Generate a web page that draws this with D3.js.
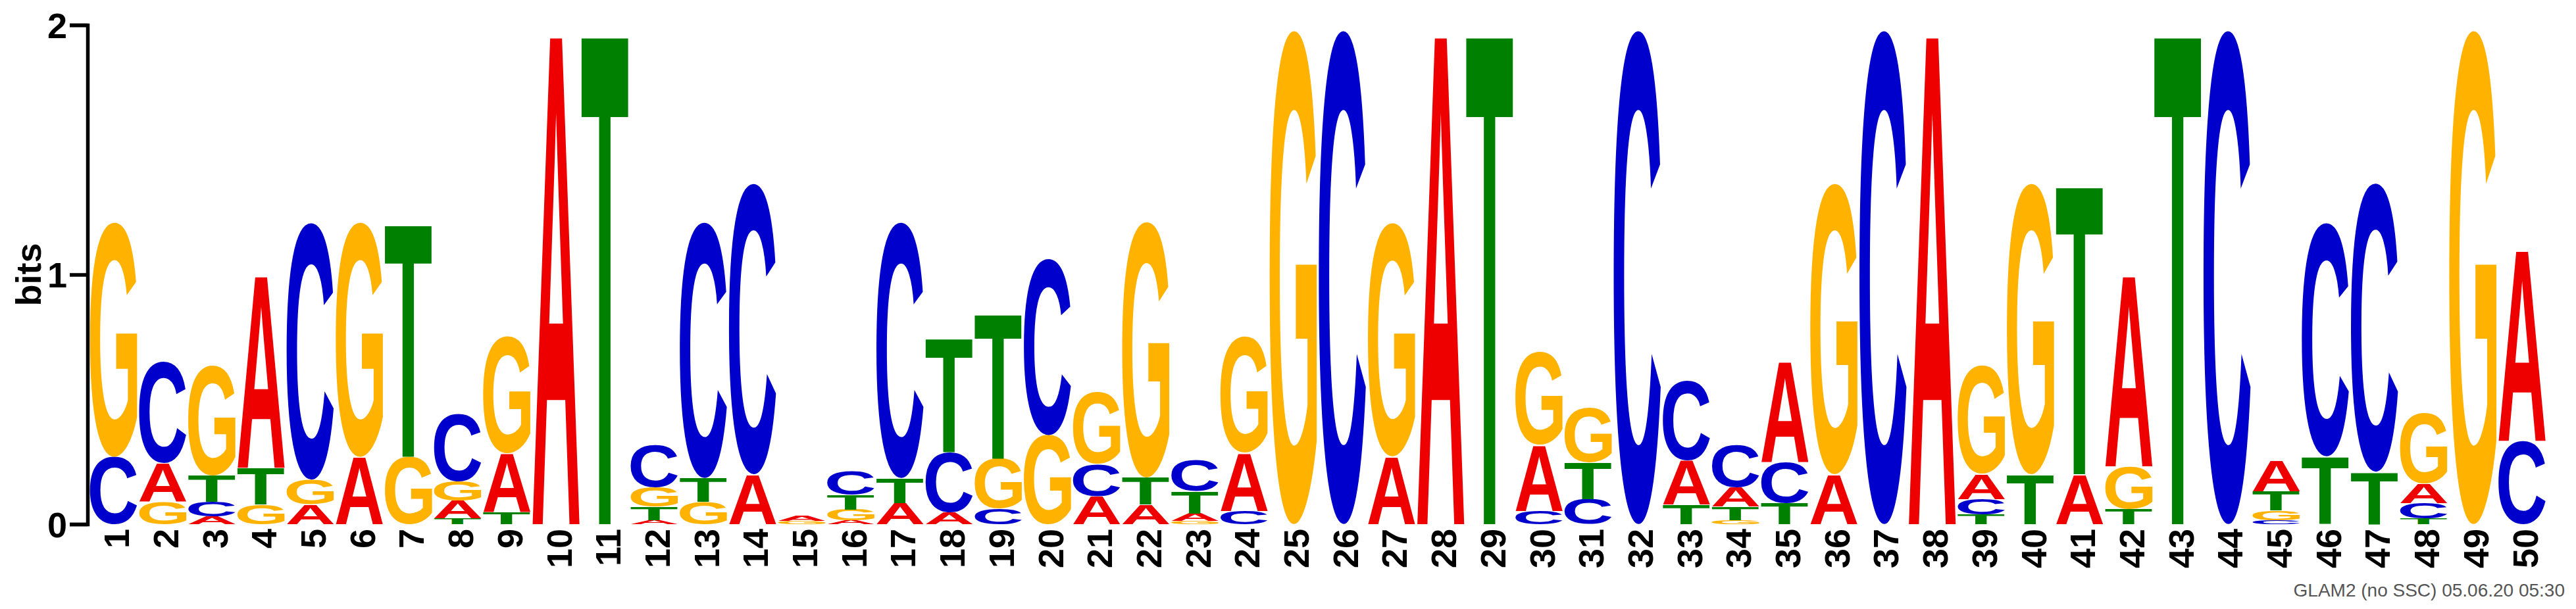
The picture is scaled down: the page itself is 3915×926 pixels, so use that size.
<!DOCTYPE html>
<html>
<head>
<meta charset="utf-8">
<script src="https://cdn.jsdelivr.net/npm/d3@7"></script>
<style>
  html, body { margin: 0; padding: 0; background: #fff; }
  svg { display: block; }
</style>
</head>
<body>
<svg id="chart" width="3915" height="926"></svg>
<script>
// ---- data (information content in bits per base, per position) ----
const positions = ["1","2","3","4","5","6","7","8","9","10","11","12","13","14","15","16","17","18","19","20","21","22","23","24","25","26","27","28","29","30","31","32","33","34","35","36","37","38","39","40","41","42","43","44","45","46","47","48","49","50"];
const bitsA = [0, 0.155, 0.03, 0.776, 0.08, 0.27, 0, 0.07, 0.236, 1.98,
               0, 0.016, 0, 0.2, 0.02, 0.016, 0.085, 0.047, 0, 0,
               0.112, 0.078, 0.031, 0.233, 0, 0, 0.272, 1.98, 0, 0.264,
               0, 0, 0.178, 0.078, 0.404, 0.2, 0, 1.98, 0.1, 0,
               0.2, 0.77, 0, 0, 0.124, 0, 0, 0.078, 0, 0.77];
const bitsC = [0.27, 0.405, 0.06, 0, 1.03, 0, 0, 0.27, 0, 0,
               0, 0.17, 1.025, 1.166, 0, 0.093, 1.025, 0.24, 0.062, 0.707,
               0.129, 0, 0.124, 0.054, 0, 1.98, 0, 0, 0, 0.054,
               0.1, 1.98, 0.318, 0.17, 0.163, 0, 1.98, 0, 0.062, 0,
               0, 0, 0, 1.98, 0.016, 0.936, 1.157, 0.062, 0, 0.334];
const bitsG = [0.94, 0.09, 0.44, 0.078, 0.098, 0.94, 0.27, 0.078, 0.47, 0,
               0, 0.078, 0.09, 0, 0.012, 0.043, 0, 0, 0.2, 0.357,
               0.287, 1.025, 0.012, 0.464, 1.98, 0, 0.936, 0, 0, 0.373,
               0.217, 0, 0, 0.016, 0, 1.166, 0, 0, 0.435, 1.166,
               0, 0.17, 0, 0, 0.039, 0, 0, 0.28, 1.98, 0];
const bitsT = [0, 0, 0.105, 0.148, 0, 0, 0.94, 0.023, 0.047, 0,
               1.98, 0.055, 0.095, 0, 0, 0.057, 0.1, 0.458, 0.584, 0,
               0, 0.109, 0.089, 0, 0, 0, 0, 0, 1.98, 0,
               0.148, 0, 0.078, 0.054, 0.085, 0, 0, 0, 0.039, 0.2,
               1.166, 0.062, 1.98, 0, 0.078, 0.272, 0.21, 0.023, 0, 0];
const bases = ["A", "C", "G", "T"];
const yTickValues = [0, 1, 2];
const yLabel = "bits";
const footer = "GLAM2 (no SSC) 05.06.20 05:30";

// ---- styles ----
const baseColor = { A: "#ee0000", C: "#0000cc", G: "#ffb300", T: "#008000" };
const FONT = "'Liberation Sans', Arial, Helvetica, sans-serif";

const svg = d3.select("#chart");

const x = d3.scaleBand().domain(positions).range([135.4, 135.4 + 50 * 74.7]).padding(0);
const y = d3.scaleLinear().domain([0, 2]).range([797, 38]);

// measure glyph ink boxes
const cnv = document.createElement("canvas");
const ctx = cnv.getContext("2d");
ctx.font = "bold 100px " + FONT;
const ink = {};
bases.forEach(b => {
  const m = ctx.measureText(b);
  ink[b] = { L: m.actualBoundingBoxLeft, R: m.actualBoundingBoxRight,
             A: m.actualBoundingBoxAscent, D: m.actualBoundingBoxDescent };
});

const series = { A: bitsA, C: bitsC, G: bitsG, T: bitsT };
const letters = [];
positions.forEach((p, i) => {
  const col = bases.map(b => ({ base: b, h: series[b][i] }))
                   .filter(d => d.h > 0)
                   .sort((a, b) => a.h - b.h);
  let acc = 0;
  col.forEach(d => {
    letters.push({ pos: p, base: d.base, y0: acc, y1: acc + d.h });
    acc += d.h;
  });
});

const bw = x.bandwidth();
const lw = bw * 0.965;
const gLetters = svg.append("g");
gLetters.selectAll("text").data(letters).join("text")
  .text(d => d.base)
  .attr("x", 0).attr("y", 0)
  .attr("font-family", FONT)
  .attr("font-weight", "bold")
  .attr("font-size", 100)
  .attr("fill", d => baseColor[d.base])
  .attr("transform", d => {
    const m = ink[d.base];
    const bx = x(d.pos) + (bw - lw) / 2;
    const by = y(d.y1);
    const h = y(d.y0) - y(d.y1);
    const sx = lw / (m.L + m.R);
    const sy = h / (m.A + m.D);
    return `translate(${bx},${by}) scale(${sx},${sy}) translate(${m.L},${m.A})`;
  });

// y axis
const yAxis = d3.axisLeft(y).tickValues(yTickValues).tickFormat(d3.format("d"))
  .tickSize(27).tickSizeOuter(27).tickPadding(4);
const gy = svg.append("g").attr("transform", "translate(133,0)").call(yAxis);
gy.select(".domain").attr("stroke", "#000").attr("stroke-width", 5.5).attr("fill", "none");
gy.selectAll(".tick line").attr("stroke", "#000").attr("stroke-width", 5.5);
gy.selectAll(".tick text")
  .attr("font-family", FONT).attr("font-weight", "bold").attr("font-size", 54)
  .attr("fill", "#000").attr("dy", "0.36em");

svg.append("text")
  .text(yLabel)
  .attr("transform", `translate(62,${y(1)}) rotate(-90)`)
  .attr("text-anchor", "middle")
  .attr("font-family", FONT).attr("font-weight", "bold").attr("font-size", 54)
  .attr("fill", "#000");

// x labels (rotated)
svg.append("g").selectAll("text").data(positions).join("text")
  .text(d => d)
  .attr("transform", d => `translate(${x(d) + bw / 2 + 4},804) rotate(-90)`)
  .attr("text-anchor", "end")
  .attr("dy", "0.36em")
  .attr("font-family", FONT).attr("font-weight", "bold").attr("font-size", 54)
  .attr("fill", "#000");

svg.append("text")
  .text(footer)
  .attr("x", 3898).attr("y", 907)
  .attr("text-anchor", "end")
  .attr("font-family", FONT).attr("font-size", 28)
  .attr("fill", "#555");
</script>
</body>
</html>
